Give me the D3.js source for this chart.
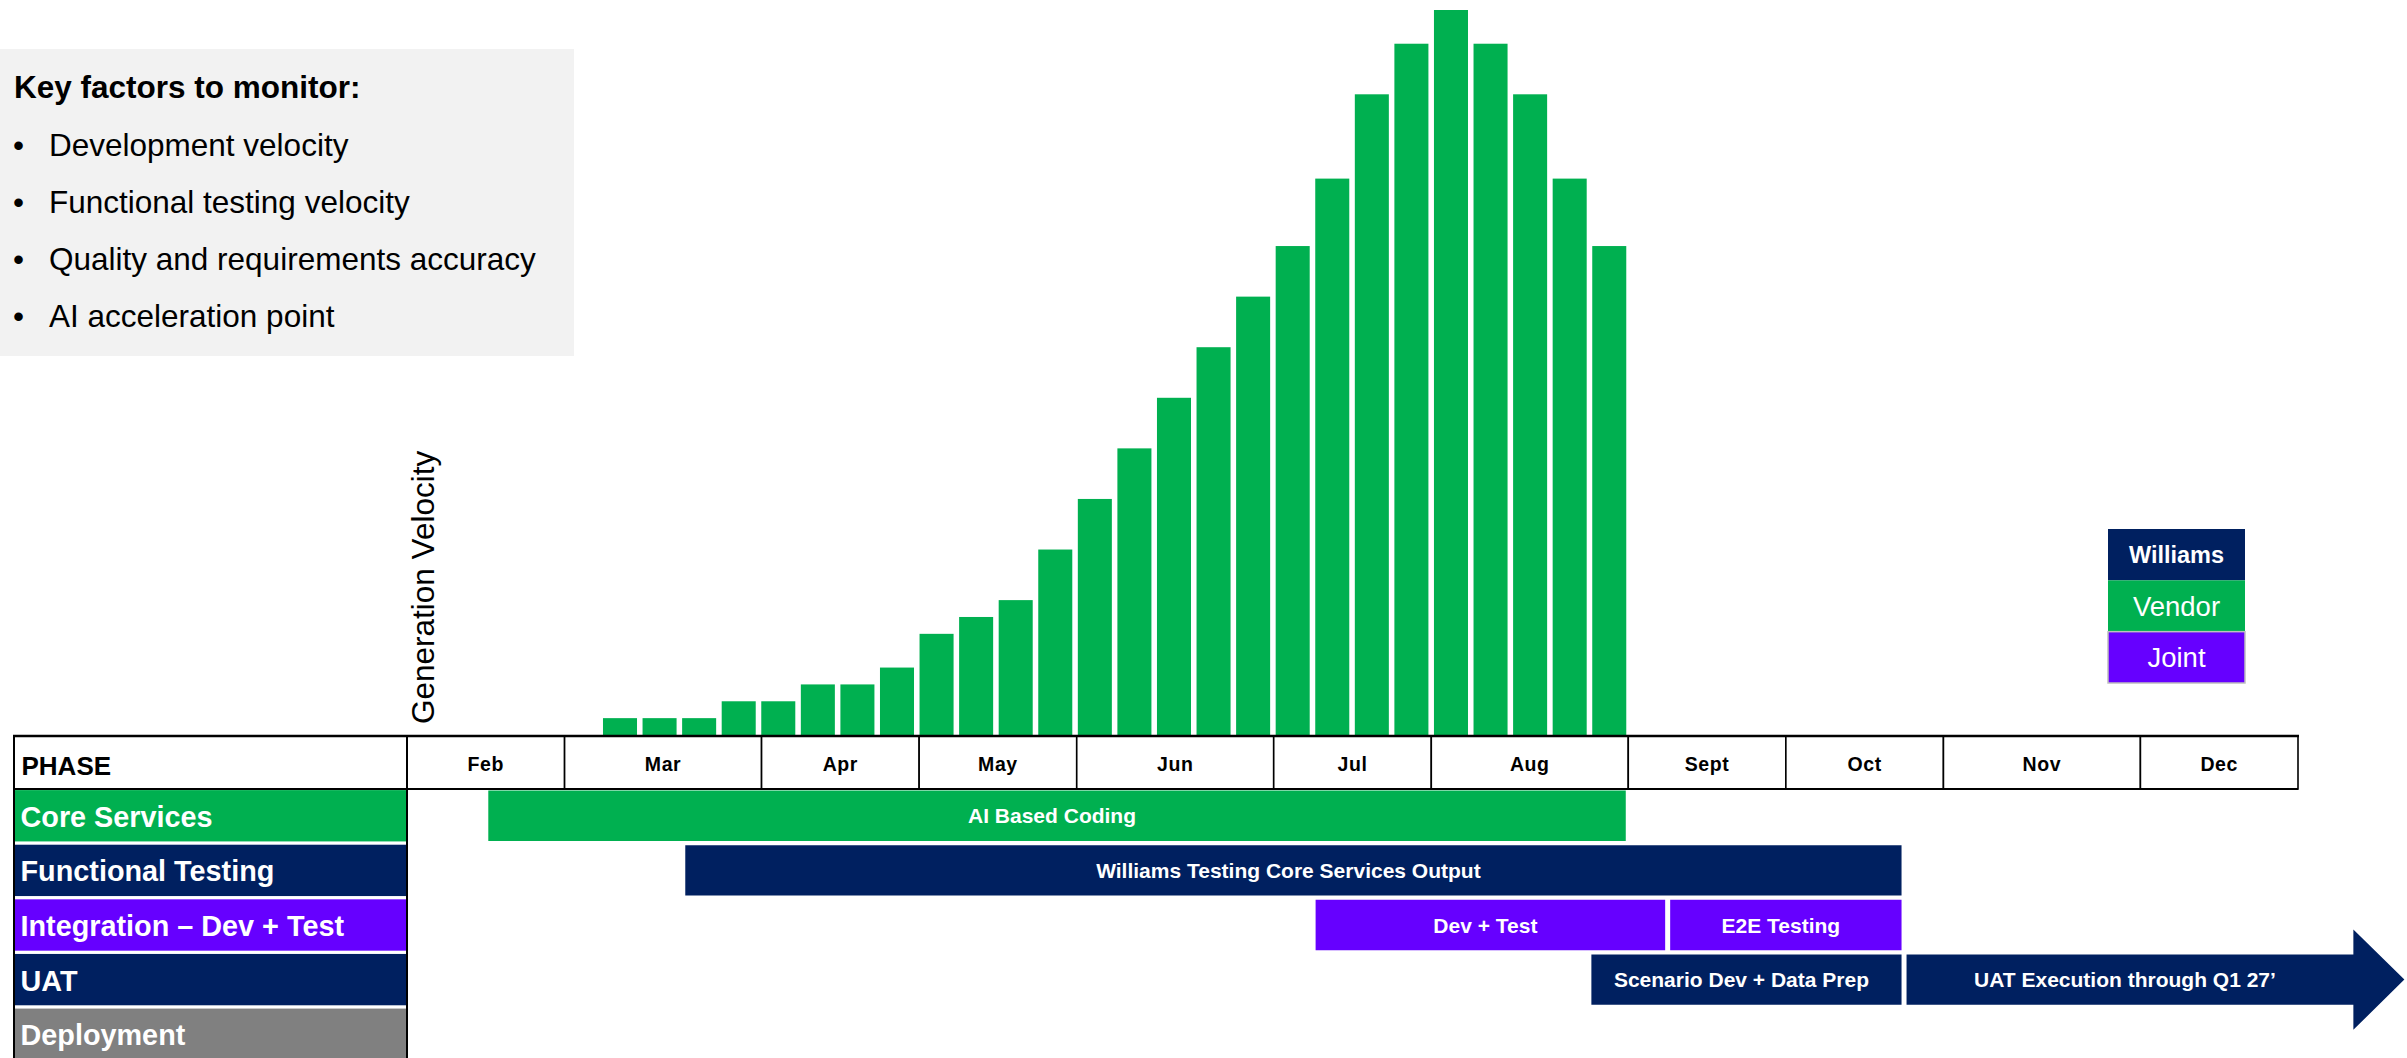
<!DOCTYPE html>
<html>
<head>
<meta charset="utf-8">
<script src="https://cdn.jsdelivr.net/npm/d3@7"></script>
<style>
  html, body { margin: 0; padding: 0; background: #ffffff; }
  svg { display: block; font-family: "Liberation Sans", Arial, Helvetica, sans-serif; }
</style>
</head>
<body>
<script>
// ---- Data ----
const months = ["Feb", "Mar", "Apr", "May", "Jun", "Jul", "Aug", "Sept", "Oct", "Nov", "Dec"];
const monthWeeks = [4, 5, 4, 4, 5, 4, 5, 4, 4, 5, 4];

// Weekly generation velocity, first week of March through end of August
const velocityStartWeek = 5;
const velocity = [1, 1, 1, 2, 2, 3, 3, 4, 6, 7, 8, 11, 14, 17, 20, 23, 26, 29, 33, 38, 41, 43, 41, 38, 33, 29];

const phases = ["Core Services", "Functional Testing", "Integration \u2013 Dev + Test", "UAT", "Deployment"];
const phaseOwners = ["Vendor", "Williams", "Joint", "Williams", "Unassigned"];

// Timeline tasks (weeks counted from the start of February)
const taskPhase = [0, 1, 2, 2, 3, 3];
const taskStart = [2, 7, 23, 32, 30, 38];
const taskEnd = [31, 38, 32, 38, 38, 50.7];
const taskLabels = ["AI Based Coding", "Williams Testing Core Services Output", "Dev + Test", "E2E Testing", "Scenario Dev + Data Prep", "UAT Execution through Q1 27\u2019"];
const taskOwners = ["Vendor", "Williams", "Joint", "Joint", "Williams", "Williams"];
const taskContinues = [false, false, false, false, false, true];

const legendOwners = ["Williams", "Vendor", "Joint"];

const keyFactorsTitle = "Key factors to monitor:";
const keyFactors = ["Development velocity", "Functional testing velocity", "Quality and requirements accuracy", "AI acceleration point"];

const yAxisTitle = "Generation Velocity";
const phaseHeader = "PHASE";

// ---- Styling ----
const ownerColor = d3.scaleOrdinal()
  .domain(["Williams", "Vendor", "Joint", "Unassigned"])
  .range(["#002060", "#00B050", "#6600FF", "#808080"]);

const W = 2407, H = 1058;
const svg = d3.select("body").append("svg").attr("width", W).attr("height", H);

// ---- Scales ----
const totalWeeks = d3.sum(monthWeeks);
const x = d3.scaleLinear().domain([0, totalWeeks]).range([407, 2298]);
const tableLeft = 14, tableTop = 736, headerBottom = 789;

const y = d3.scaleLinear().domain([0, 43]).range([tableTop - 1, 10]);

const weekIdx = d3.range(velocity.length);
const xBar = d3.scaleBand()
  .domain(weekIdx)
  .range([x(velocityStartWeek) - 1, x(velocityStartWeek + velocity.length) - 2])
  .paddingInner(0.14)
  .paddingOuter(0);

const yRow = d3.scaleBand()
  .domain(d3.range(phases.length))
  .range([headerBottom, 1061])
  .paddingInner(0.06)
  .paddingOuter(0.02);

// ---- Key factors panel ----
const panel = svg.append("g");
panel.append("rect").attr("x", 0).attr("y", 49).attr("width", 574).attr("height", 307).attr("fill", "#F2F2F2");
panel.append("text").attr("x", 14).attr("y", 98)
  .attr("font-size", 31.5).attr("font-weight", "bold").attr("fill", "#000")
  .text(keyFactorsTitle);
const kf = panel.selectAll("g.kf").data(keyFactors).join("g").attr("class", "kf")
  .attr("transform", (d, i) => `translate(0,${156 + i * 57})`);
kf.append("text").attr("x", 13).attr("y", 0).attr("font-size", 31.5).attr("fill", "#000").text("\u2022");
kf.append("text").attr("x", 49).attr("y", 0).attr("font-size", 31.5).attr("fill", "#000").text(d => d);

// ---- Velocity bars ----
svg.append("g").selectAll("rect").data(velocity).join("rect")
  .attr("x", (d, i) => xBar(i))
  .attr("width", xBar.bandwidth())
  .attr("y", d => y(d))
  .attr("height", d => y(0) - y(d))
  .attr("fill", ownerColor("Vendor"));

// Y axis title
svg.append("text")
  .attr("transform", `translate(434,724) rotate(-90)`)
  .attr("font-size", 31.5).attr("fill", "#000")
  .text(yAxisTitle);

// ---- Legend ----
const legend = svg.append("g");
const legendY = d3.scaleBand().domain(legendOwners).range([529, 683]);
legend.selectAll("rect").data(legendOwners).join("rect")
  .attr("x", 2108).attr("width", 137)
  .attr("y", d => legendY(d)).attr("height", legendY.bandwidth())
  .attr("fill", d => ownerColor(d))
  .attr("stroke", (d, i) => i === 2 ? "#BFBFBF" : "none")
  .attr("stroke-width", 1.5);
legend.selectAll("text").data(legendOwners).join("text")
  .attr("x", 2176.5)
  .attr("y", d => legendY(d) + legendY.bandwidth() / 2 + (d === "Williams" ? 8.5 : 10))
  .attr("text-anchor", "middle")
  .attr("font-size", d => d === "Williams" ? 23.5 : 27.5)
  .attr("font-weight", d => d === "Williams" ? "bold" : "normal")
  .attr("fill", "#fff")
  .text(d => d);

// ---- Phase label column ----
const rowsG = svg.append("g");
rowsG.selectAll("rect").data(phases).join("rect")
  .attr("x", tableLeft + 1).attr("width", 407 - tableLeft - 2)
  .attr("y", (d, i) => yRow(i)).attr("height", yRow.bandwidth())
  .attr("fill", (d, i) => ownerColor(phaseOwners[i]));
rowsG.selectAll("text").data(phases).join("text")
  .attr("x", 20.5)
  .attr("y", (d, i) => yRow(i) + yRow.bandwidth() / 2 + 11)
  .attr("font-size", 28.8).attr("font-weight", "bold").attr("fill", "#fff")
  .text(d => d);

// ---- Month header ----
const monthStart = [0, ...d3.cumsum(monthWeeks)];
const header = svg.append("g");
header.append("rect").attr("x", tableLeft).attr("y", tableTop).attr("width", 407 - tableLeft)
  .attr("height", headerBottom - tableTop).attr("fill", "#fff");
header.append("text").attr("x", 21.5).attr("y", 775)
  .attr("font-size", 26).attr("font-weight", "bold").attr("fill", "#000")
  .text(phaseHeader);
header.selectAll("rect.m").data(months).join("rect").attr("class", "m")
  .attr("x", (d, i) => x(monthStart[i]))
  .attr("width", (d, i) => x(monthStart[i + 1]) - x(monthStart[i]))
  .attr("y", tableTop).attr("height", headerBottom - tableTop)
  .attr("fill", "#fff").attr("stroke", "#000").attr("stroke-width", 1.6);
header.selectAll("text.m").data(months).join("text").attr("class", "m")
  .attr("x", (d, i) => (x(monthStart[i]) + x(monthStart[i + 1])) / 2)
  .attr("y", 770.5)
  .attr("text-anchor", "middle")
  .attr("font-size", 19.5).attr("font-weight", "bold").attr("fill", "#000")
  .attr("letter-spacing", 0.6)
  .text(d => d);

// Table frame lines
const frame = svg.append("g").attr("stroke", "#000");
frame.append("line").attr("x1", tableLeft - 1).attr("x2", x(totalWeeks) + 1)
  .attr("y1", tableTop).attr("y2", tableTop).attr("stroke-width", 2.6);
frame.append("line").attr("x1", tableLeft).attr("x2", x(totalWeeks))
  .attr("y1", headerBottom).attr("y2", headerBottom).attr("stroke-width", 1.8);
frame.append("line").attr("x1", tableLeft).attr("x2", tableLeft)
  .attr("y1", tableTop).attr("y2", H).attr("stroke-width", 2);
frame.append("line").attr("x1", 407).attr("x2", 407)
  .attr("y1", tableTop).attr("y2", H).attr("stroke-width", 2);

// ---- Timeline tasks ----
const tasks = taskLabels.map((label, i) => ({
  label, phase: taskPhase[i], start: taskStart[i], end: taskEnd[i],
  owner: taskOwners[i], continues: taskContinues[i]
}));
const inset = 2.5, headLen = 51, headFlare = 25;

const taskG = svg.append("g").selectAll("g").data(tasks).join("g");
taskG.append("path")
  .attr("fill", d => ownerColor(d.owner))
  .attr("d", d => {
    const x0 = x(d.start) + inset;
    const y0 = yRow(d.phase) + 0.5, h = yRow.bandwidth() - 1;
    if (!d.continues) {
      const x1 = x(d.end) - inset;
      return `M${x0},${y0}H${x1}V${y0 + h}H${x0}Z`;
    }
    const tip = x(d.end), base = tip - headLen, mid = y0 + h / 2;
    return `M${x0},${y0}H${base}V${y0 - headFlare}L${tip},${mid}L${base},${y0 + h + headFlare}V${y0 + h}H${x0}Z`;
  });
taskG.append("text")
  .attr("x", d => {
    const x0 = x(d.start) + inset;
    const x1 = d.continues ? x(d.end) - headLen : x(d.end) - inset;
    return (x0 + x1) / 2 - 5;
  })
  .attr("y", d => yRow(d.phase) + yRow.bandwidth() / 2 + 7.5)
  .attr("text-anchor", "middle")
  .attr("font-size", 21).attr("font-weight", "bold").attr("fill", "#fff")
  .text(d => d.label);
</script>
</body>
</html>
